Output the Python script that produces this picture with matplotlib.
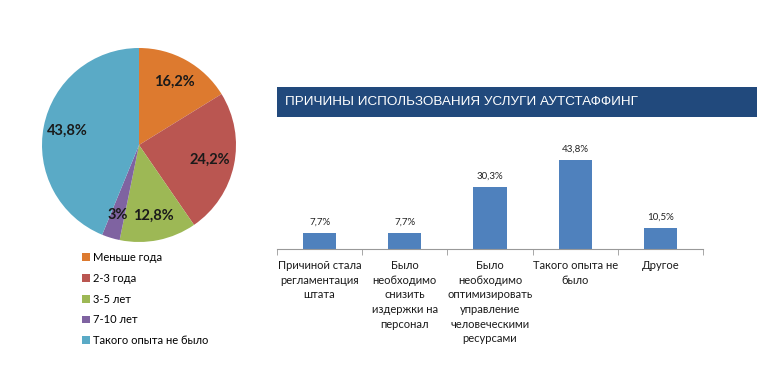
import matplotlib
matplotlib.use('Agg')
import matplotlib.pyplot as plt
from matplotlib.patches import Rectangle

plt.rcParams['font.family'] = ['Lato', 'DejaVu Sans']

# pie data
pie_names = ['Меньше года', '2-3 года', '3-5 лет', '7-10 лет', 'Такого опыта не было']
pie_values = [16.2, 24.2, 12.8, 3.0, 43.8]
pie_labels = ['16,2%', '24,2%', '12,8%', '3%', '43,8%']
pie_colors = ['#DD7A2F', '#BA5651', '#9DB855', '#7F63A1', '#5AAAC6']

# bar data
bar_title = 'ПРИЧИНЫ ИСПОЛЬЗОВАНИЯ УСЛУГИ АУТСТАФФИНГ'
bar_cats = ['Причиной стала\nрегламентация\nштата',
            'Было\nнеобходимо\nснизить\nиздержки на\nперсонал',
            'Было\nнеобходимо\nоптимизировать\nуправление\nчеловеческими\nресурсами',
            'Такого опыта не\nбыло',
            'Другое']
bar_values = [7.7, 7.7, 30.3, 43.8, 10.5]
bar_labels = ['7,7%', '7,7%', '30,3%', '43,8%', '10,5%']

W, H = 768, 388
fig = plt.figure(figsize=(W / 100, H / 100), dpi=100)

# ---- pie ----
ax1 = fig.add_axes([39 / W, (H - 245) / H, 200 / W, 200 / H])
lab_iter = iter(pie_labels)
wedges, texts, autotexts = ax1.pie(pie_values, colors=pie_colors, startangle=90,
                                   counterclock=False, radius=0.97,
                                   autopct=lambda p: next(lab_iter), pctdistance=0.75,
                                   wedgeprops=dict(linewidth=0))
for t in autotexts:
    t.set_fontsize(10.5)
    t.set_fontweight('bold')
    t.set_color('#1a1a1a')
ax1.set_xlim(-1, 1)
ax1.set_ylim(-1, 1)
ax1.set_aspect('equal')

# legend
ax1.legend(wedges, pie_names, loc='upper left', bbox_to_anchor=(82 / W, (H - 252) / H),
           bbox_transform=fig.transFigure, frameon=False, fontsize=8,
           handlelength=0.7, handleheight=0.7, handletextpad=0.3, labelspacing=0.88,
           borderpad=0, borderaxespad=0)

# ---- title banner ----
fig.patches.append(Rectangle((277 / W, (H - 117) / H), 480 / W, 30 / H,
                             transform=fig.transFigure, facecolor='#21497C',
                             edgecolor='none'))
fig.text(285 / W, (H - 102) / H, bar_title, color='white', fontsize=9.7,
         family=['Liberation Sans', 'DejaVu Sans'], va='center', ha='left')

# ---- bars ----
ax2 = fig.add_axes([277 / W, (H - 249) / H, 426 / W, 104 / H])
x = range(len(bar_values))
ax2.bar(x, bar_values, width=0.39, color='#4F81BD')
for xi, v, s in zip(x, bar_values, bar_labels):
    ax2.text(xi, v + 3, s, ha='center', va='bottom', fontsize=7, color='#222222')
ax2.set_xlim(-0.5, len(bar_values) - 0.5)
ax2.set_ylim(0, 51)
ax2.set_yticks([])
ax2.set_xticks(list(x))
ax2.set_xticklabels(bar_cats, fontsize=8, linespacing=1.4, color='#1a1a1a')
ax2.set_xticks([i - 0.5 for i in range(len(bar_values) + 1)], minor=True)
ax2.tick_params(axis='x', which='major', length=0, pad=8)
ax2.tick_params(axis='x', which='minor', length=4, color='#999999')
for s in ['top', 'left', 'right']:
    ax2.spines[s].set_visible(False)
ax2.spines['bottom'].set_color('#999999')
ax2.patch.set_alpha(0)

fig.savefig('out.png', dpi=100)
